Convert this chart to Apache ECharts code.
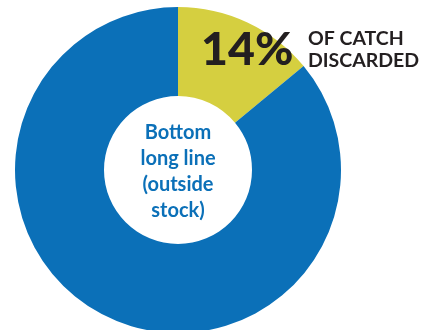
<!DOCTYPE html>
<html>
<head>
<meta charset="utf-8">
<style>
  html, body { margin: 0; padding: 0; background: #ffffff; }
  #chart { width: 428px; height: 330px; }
</style>
<script src="https://cdn.jsdelivr.net/npm/echarts@6/dist/echarts.min.js"></script>
</head>
<body>
<div id="chart"></div>
<script>
// Share of catch discarded vs retained
const sliceNames = ['Discarded', 'Retained'];
const sliceValues = [14, 86];
const sliceColors = ['#D5CF40', '#0B70B8'];
const centerLines = ['Bottom', 'long line', '(outside', 'stock)'];
const headline = sliceValues[0] + '%';
const headlineNote = ['OF CATCH', 'DISCARDED'];

const chart = echarts.init(document.getElementById('chart'));

chart.setOption({
  animation: false,
  backgroundColor: '#ffffff',
  series: [{
    type: 'pie',
    center: [178, 170],
    radius: [74, 163],
    startAngle: 90,
    clockwise: true,
    silent: true,
    label: { show: false },
    labelLine: { show: false },
    itemStyle: { borderWidth: 0 },
    data: sliceNames.map((n, i) => ({
      name: n,
      value: sliceValues[i],
      itemStyle: { color: sliceColors[i] }
    }))
  }],
  graphic: [
    {
      type: 'text',
      z: 100,
      x: 201,
      y: 50,
      style: {
        text: headline,
        font: '900 46.5px Lato',
        fill: '#231F20',
        align: 'left',
        verticalAlign: 'middle'
      }
    },
    {
      type: 'text',
      z: 100,
      x: 308,
      y: 50,
      style: {
        text: headlineNote.join('\n'),
        font: 'bold 19.5px Lato',
        lineHeight: 22,
        fill: '#231F20',
        align: 'left',
        verticalAlign: 'middle'
      }
    },
    {
      type: 'text',
      z: 100,
      x: 178,
      y: 172,
      style: {
        text: centerLines.join('\n'),
        font: 'bold 20px Lato',
        lineHeight: 26,
        fill: '#0B70B8',
        align: 'center',
        verticalAlign: 'middle'
      }
    }
  ]
});
</script>
</body>
</html>
